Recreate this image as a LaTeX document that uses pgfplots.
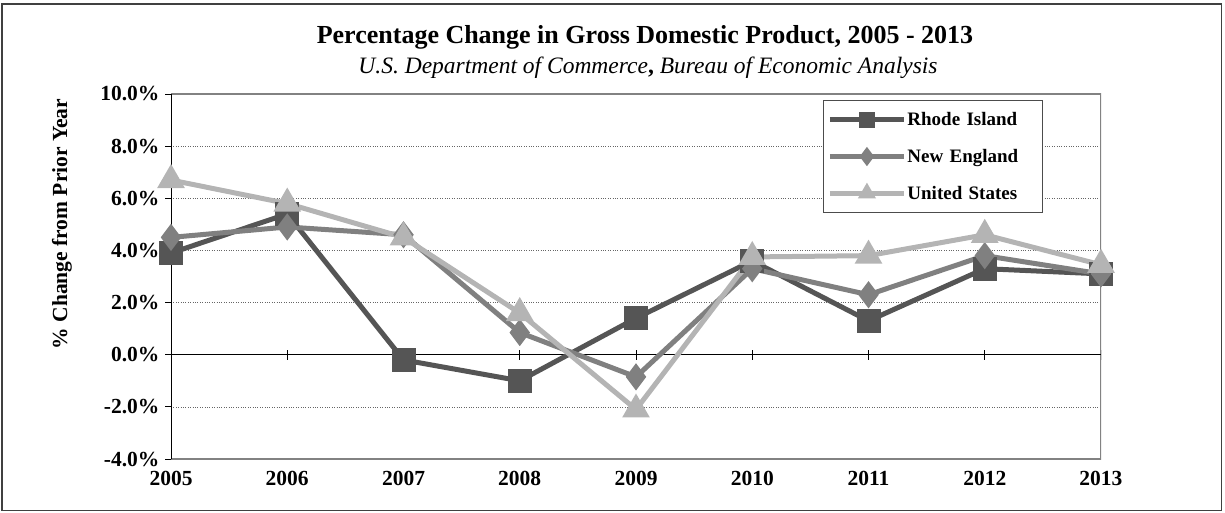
\documentclass[border=0pt]{standalone}
\usepackage{pgfplots}
\pgfplotsset{compat=1.18}
\usepackage{pgfplotstable}
\usepackage{fontspec}
\setmainfont{Liberation Serif}
\definecolor{riC}{RGB}{85,85,85}
\definecolor{neC}{RGB}{128,128,128}
\definecolor{usC}{RGB}{180,180,180}
\definecolor{frameC}{RGB}{130,130,130}
\pgfplotstableread{
year ri ne us
2005 3.9 4.5 6.7
2006 5.4 4.9 5.8
2007 -0.2 4.6 4.5
2008 -1.0 0.85 1.6
2009 1.4 -0.85 -2.1
2010 3.6 3.3 3.75
2011 1.3 2.3 3.8
2012 3.3 3.8 4.6
2013 3.1 3.1 3.45
}\gdp
\begin{document}
\begin{tikzpicture}[x=1pt,y=1pt]
\path (0,0) rectangle (1225,512);
\draw[line width=1.5pt,color=black!75] (2,1.5) rectangle (1221.5,508);
\node[font=\bfseries\fontsize{26}{30}\selectfont, anchor=base] at (645,468) {Percentage Change in Gross Domestic Product, 2005 - 2013};
\node[font=\itshape\fontsize{23.5}{27}\selectfont, anchor=base] at (648,438) {U.S. Department of Commerce{\upshape\bfseries ,} Bureau of Economic Analysis};
\node[rotate=90, font=\bfseries\fontsize{21.5}{25}\selectfont] at (62,288) {\% Change from Prior Year};
\begin{axis}[
  at={(171pt,53pt)}, anchor=south west,
  scale only axis, width=930pt, height=365pt,
  xmin=2005, xmax=2013, ymin=-4, ymax=10,
  axis line style={draw=none},
  xtick={2005,2006,...,2013},
  xtick style={draw=none},
  ytick={-4,-2,...,10},
  ytick pos=left,
  tick align=outside,
  major tick length=6pt,
  ytick style={black, line width=0.8pt},
  ymajorgrids,
  grid style={black!60, dotted, line width=0.6pt},
  /pgf/number format/assume math mode=true,
  ticklabel style={font=\bfseries\fontsize{21.5}{24}\selectfont},
  xticklabel={\pgfmathprintnumber[1000 sep={},fixed,precision=0]{\tick}},
  yticklabel={\pgfmathprintnumber[fixed,fixed zerofill,precision=1]{\tick}\%},
  xticklabel style={yshift=-3pt},
  yticklabel style={xshift=-2pt},
  legend style={at={(rel axis cs:0.701,0.9836)}, anchor=north west,
    draw=black!70, line width=1pt,
    font=\bfseries\fontsize{19}{22}\selectfont,
    row sep=20pt, inner xsep=4pt, inner ysep=11pt,
    nodes={inner sep=1pt, text width=130pt, align=left}},
  legend cell align=left,
  legend image code/.code={\draw[mark repeat=2,mark phase=2,mark size=5.5pt] plot coordinates {(0pt,0pt) (37pt,0pt) (74pt,0pt)};},
]
\draw[frameC, line width=1.8pt] (rel axis cs:0,0) -- (rel axis cs:1,0) -- (rel axis cs:1,1) -- (rel axis cs:0,1);
\draw[black, line width=1pt] (axis cs:2005,0) -- (axis cs:2013,0);
\pgfplotsinvokeforeach{2006,2007,2008,2009,2010,2011,2012,2013}{\draw[black, line width=0.6pt] ([yshift=-5pt]axis cs:#1,0) -- ([yshift=5pt]axis cs:#1,0);}
\draw[black, line width=1.2pt] (rel axis cs:0,0) -- (rel axis cs:0,1);
\addplot[riC, line width=5pt, mark=square*, mark size=9.5pt, mark options={solid}] table[x=year,y=ri] {\gdp};
\addlegendentry{Rhode Island}
\addplot[neC, line width=5pt, mark=diamond*, mark size=9.5pt, mark options={solid}] table[x=year,y=ne] {\gdp};
\addlegendentry{New England}
\addplot[usC, line width=5pt, mark=triangle*, mark size=11pt, mark options={solid}] table[x=year,y=us] {\gdp};
\addlegendentry{United States}
\end{axis}
\end{tikzpicture}
\end{document}
